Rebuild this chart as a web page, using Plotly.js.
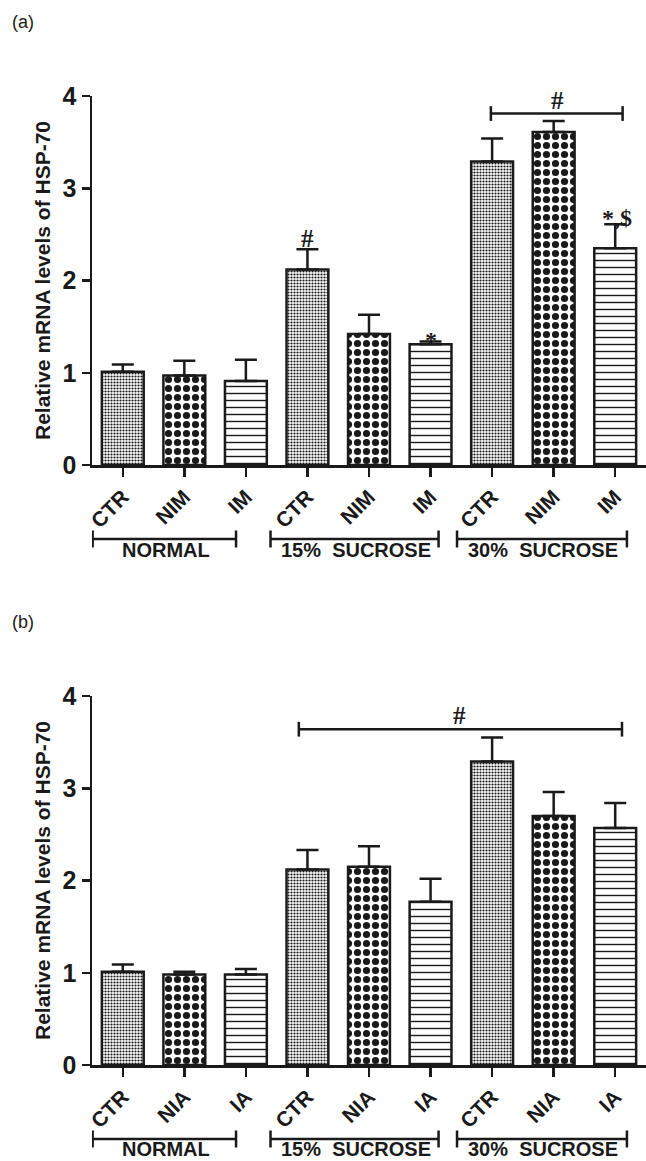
<!DOCTYPE html>
<html>
<head>
<meta charset="utf-8">
<script src="https://cdn.plot.ly/plotly-3.0.1.min.js"></script>
<style>
  html, body { margin: 0; padding: 0; background: #ffffff; }
  #chart { width: 646px; height: 1161px; }
</style>
</head>
<body>
<div id="chart"></div>
<script>
// ---------------- data ----------------
const positionsA = [0, 1, 2, 3, 4, 5, 6, 7, 8];
const labelsA = ['CTR', 'NIM', 'IM', 'CTR', 'NIM', 'IM', 'CTR', 'NIM', 'IM'];
const valuesA = [1.01, 0.97, 0.91, 2.12, 1.42, 1.31, 3.29, 3.61, 2.35];
const errorsA = [0.08, 0.16, 0.23, 0.22, 0.21, 0.03, 0.25, 0.12, 0.26];

const positionsB = [0, 1, 2, 3, 4, 5, 6, 7, 8];
const labelsB = ['CTR', 'NIA', 'IA', 'CTR', 'NIA', 'IA', 'CTR', 'NIA', 'IA'];
const valuesB = [1.01, 0.98, 0.98, 2.12, 2.15, 1.77, 3.29, 2.70, 2.57];
const errorsB = [0.08, 0.03, 0.06, 0.21, 0.22, 0.25, 0.26, 0.26, 0.27];

const groupNames = ['NORMAL', '15%  SUCROSE', '30%  SUCROSE'];
const yTicks = [0, 1, 2, 3, 4];
const yTitle = 'Relative mRNA levels of HSP-70';

// ---------------- styling ----------------
const W = 646, H = 1161;
const py = p => 1 - p / H;
const INK = '#1a1a1a';
const FONT = 'Liberation Sans, Arial, sans-serif';
const SERIF = 'Liberation Serif, Times New Roman, serif';

// pattern per treatment slot within a group
const patternStyles = [
  { shape: '.', size: 3, solidity: 0.42 },  // control: fine checker
  { shape: '.', size: 9, solidity: 0.5 },   // coarse checker
  { shape: '-', size: 7, solidity: 0.2 }    // horizontal lines
];

function barTrace(xs, ys, errs, xa, ya) {
  const st = xs.map((_, i) => patternStyles[i % 3]);
  return {
    type: 'bar',
    x: xs, y: ys,
    xaxis: xa, yaxis: ya,
    width: 0.68,
    marker: {
      color: '#ffffff',
      line: { color: INK, width: 2.5 },
      pattern: {
        shape: st.map(s => s.shape),
        size: st.map(s => s.size),
        solidity: st.map(s => s.solidity),
        fgcolor: INK,
        bgcolor: '#ffffff',
        fillmode: 'replace'
      }
    },
    error_y: {
      type: 'data', symmetric: false,
      array: errs, arrayminus: errs.map(() => 0),
      color: INK, thickness: 2.5, width: 11
    },
    hoverinfo: 'none',
    showlegend: false
  };
}

function xAxis(xs, labels, anchor) {
  return {
    domain: [92 / W, 1], range: [-0.5, 8.5], anchor: anchor,
    tickmode: 'array', tickvals: xs, ticktext: labels, tickangle: -45,
    ticks: 'outside', ticklen: 9, tickwidth: 2.5, tickcolor: INK,
    showline: true, linewidth: 2.5, linecolor: INK,
    showgrid: false, zeroline: false, fixedrange: true,
    tickfont: { family: FONT, size: 21, weight: 'bold', color: INK }
  };
}
function yAxis(domain, anchor) {
  return {
    domain: domain, range: [0, 4], anchor: anchor,
    tickmode: 'array', tickvals: yTicks,
    ticks: 'outside', ticklen: 8, tickwidth: 2.5, tickcolor: INK,
    showline: true, linewidth: 2.5, linecolor: INK,
    showgrid: false, zeroline: false, fixedrange: true,
    tickfont: { family: FONT, size: 25, weight: 'bold', color: INK },
    title: { text: yTitle, standoff: 6, font: { family: FONT, size: 21, weight: 'bold', color: INK } }
  };
}

const shapes = [];
const annotations = [];
function line(xref, yref, x0, y0, x1, y1) {
  shapes.push({ type: 'line', xref, yref, x0, y0, x1, y1, line: { color: INK, width: 2.5 } });
}
function bracketData(xref, yref, x0, x1, y, cap) {
  line(xref, yref, x0, y, x1, y);
  line(xref, yref, x0, y - cap, x0, y + cap);
  line(xref, yref, x1, y - cap, x1, y + cap);
}
function mark(xref, yref, x, y, text, size) {
  annotations.push({ xref, yref, x, y, text, showarrow: false, xanchor: 'center', yanchor: 'middle',
    font: { family: SERIF, size: size || 25, weight: 'bold', color: INK } });
}

// group brackets under the x axes (pixel rows of the bracket line and text bottom)
const groupSpans = [[-0.49, 1.84], [2.40, 5.13], [5.43, 8.19]];
function groupBrackets(xref, lineRow, textBottomRow) {
  groupSpans.forEach((sp, g) => {
    const yl = py(lineRow), c = 8.5 / H;
    line(xref, 'paper', sp[0], yl, sp[1], yl);
    line(xref, 'paper', sp[0], yl - c, sp[0], yl + c);
    line(xref, 'paper', sp[1], yl - c, sp[1], yl + c);
    annotations.push({ xref, yref: 'paper', x: (sp[0] + sp[1]) / 2 + 0.02, y: py(textBottomRow),
      text: groupNames[g], showarrow: false, xanchor: 'center', yanchor: 'bottom', borderpad: 0,
      font: { family: FONT, size: 20, weight: 'bold', color: INK } });
  });
}

// panel (a)
groupBrackets('x', 539, 562);
bracketData('x', 'y', 5.98, 8.12, 3.81, 0.08);
mark('x', 'y', 7.07, 3.95, '#');
mark('x', 'y', 3, 2.45, '#');
mark('x', 'y', 5, 1.36, '*', 24);
mark('x', 'y', 8.03, 2.68, '*,$', 24);

// panel (b)
groupBrackets('x2', 1139, 1161);
bracketData('x2', 'y2', 2.86, 8.11, 3.64, 0.08);
mark('x2', 'y2', 5.47, 3.79, '#');

// panel letters
annotations.push({ xref: 'paper', yref: 'paper', x: 10 / W, y: py(22), text: '(a)', showarrow: false,
  xanchor: 'left', yanchor: 'middle', font: { family: FONT, size: 18, color: INK } });
annotations.push({ xref: 'paper', yref: 'paper', x: 10 / W, y: py(622), text: '(b)', showarrow: false,
  xanchor: 'left', yanchor: 'middle', font: { family: FONT, size: 18, color: INK } });

const data = [
  barTrace(positionsA, valuesA, errorsA, 'x', 'y'),
  barTrace(positionsB, valuesB, errorsB, 'x2', 'y2')
];

const layout = {
  width: W, height: H,
  margin: { l: 0, r: 0, t: 0, b: 0 },
  paper_bgcolor: '#ffffff', plot_bgcolor: '#ffffff',
  showlegend: false,
  xaxis: xAxis(positionsA, labelsA, 'y'),
  yaxis: yAxis([py(465), py(96)], 'x'),
  xaxis2: xAxis(positionsB, labelsB, 'y2'),
  yaxis2: yAxis([py(1065), py(696)], 'x2'),
  shapes, annotations
};

Plotly.newPlot('chart', data, layout, { displayModeBar: false, staticPlot: true });
</script>
</body>
</html>
